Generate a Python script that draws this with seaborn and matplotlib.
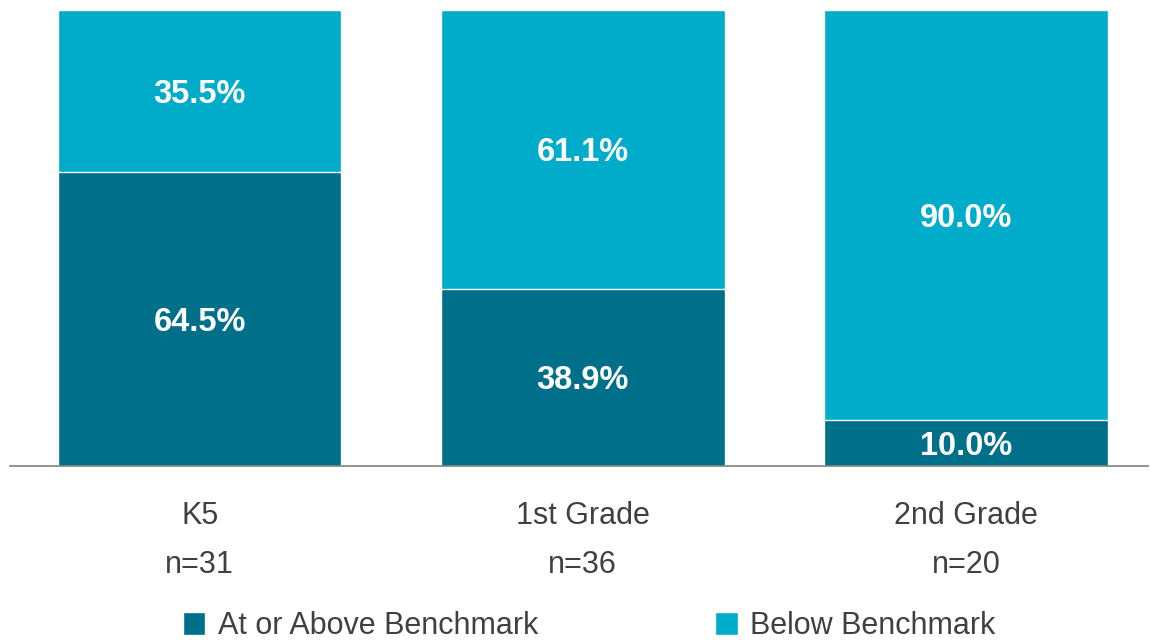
import pandas as pd
import seaborn as sns
import matplotlib.pyplot as plt

# Data
categories = ["K5", "1st Grade", "2nd Grade"]
sample_sizes = [31, 36, 20]
at_or_above = [64.5, 38.9, 10.0]
below = [35.5, 61.1, 90.0]

DARK = "#006F8A"
LIGHT = "#00ACC9"
TEXT_GREY = "#404040"

sns.set_theme(style="white")
plt.rcParams["font.family"] = ["Liberation Sans", "DejaVu Sans"]

df = pd.DataFrame({
    "label": [f"{c}\nn={n}" for c, n in zip(categories, sample_sizes)],
    "at_or_above": at_or_above,
    "below": below,
})
df["total"] = df["at_or_above"] + df["below"]

fig = plt.figure(figsize=(11.5, 6.44), dpi=100)
ax = fig.add_axes([10 / 1150, 1 - 466 / 644, 1138 / 1150, 456 / 644])

# Stacked bars: full height first (below segment visible on top), then lower segment
sns.barplot(data=df, x="label", y="total", color=LIGHT, width=0.74,
            saturation=1, ax=ax, label="Below Benchmark")
sns.barplot(data=df, x="label", y="at_or_above", color=DARK, width=0.74,
            saturation=1, ax=ax, label="At or Above Benchmark")

# Value labels centred in each segment
for i, row in df.iterrows():
    ax.text(i, row["at_or_above"] / 2, f"{row['at_or_above']:.1f}%",
            ha="center", va="center_baseline", color="white",
            fontsize=23.5, fontweight="bold")
    ax.text(i, row["at_or_above"] + row["below"] / 2, f"{row['below']:.1f}%",
            ha="center", va="center_baseline", color="white",
            fontsize=23.5, fontweight="bold")

ax.set_ylim(0, 100)
ax.set_xlim(-0.495, 2.475)
ax.set_xlabel("")
ax.set_ylabel("")
ax.set_yticks([])
ax.tick_params(axis="x", length=0, pad=25, labelsize=22, labelcolor=TEXT_GREY)
for lbl in ax.get_xticklabels():
    lbl.set_linespacing(1.85)
for side in ["top", "left", "right"]:
    ax.spines[side].set_visible(False)
ax.spines["bottom"].set_color("#808080")
ax.spines["bottom"].set_linewidth(1.2)

# Legend ordered as in the reference
handles, labels = ax.get_legend_handles_labels()
order = [labels.index("At or Above Benchmark"), labels.index("Below Benchmark")]
ax.legend().remove()
fig.legend([handles[i] for i in order], [labels[i] for i in order],
           loc="center", bbox_to_anchor=(589 / 1150, 1 - 626 / 644), ncol=2,
           frameon=False, fontsize=22, labelcolor=TEXT_GREY,
           handlelength=0.75, handleheight=0.75, handletextpad=0.4,
           columnspacing=5.8, borderpad=0.1)

fig.savefig("out.png", dpi=100, facecolor="white")
